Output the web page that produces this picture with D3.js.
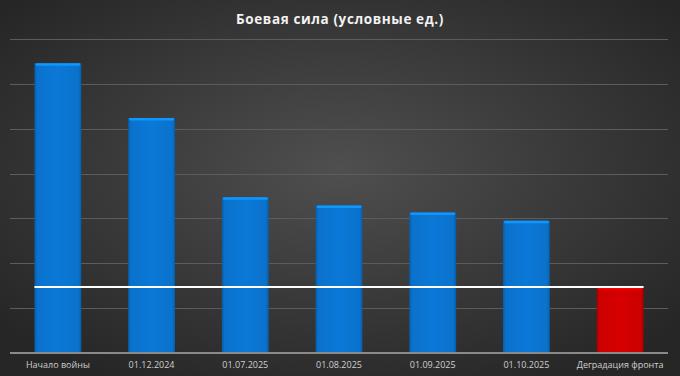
<!DOCTYPE html>
<html><head><meta charset="utf-8">
<script src="https://cdn.jsdelivr.net/npm/d3@7/dist/d3.min.js"></script>
<style>html,body{margin:0;padding:0;background:#2b2b2b;}svg{display:block;}</style>
</head><body>
<script>
const categories = ["Начало войны","01.12.2024","01.07.2025","01.08.2025","01.09.2025","01.10.2025","Деградация фронта"];
const values = [6.46, 5.24, 3.47, 3.29, 3.13, 2.95, 1.47];
const barColors = ["#0a72cc","#0a72cc","#0a72cc","#0a72cc","#0a72cc","#0a72cc","#cc0000"];
const gridTicks = [0,1,2,3,4,5,6,7];
const referenceLevel = 1.47;
const title = "Боевая сила (условные ед.)";

const W = 680, H = 376;
const svg = d3.select("body").append("svg").attr("width", W).attr("height", H);
const defs = svg.append("defs");
const rg = defs.append("radialGradient").attr("id","bg").attr("cx","50%").attr("cy","45%").attr("r","65%");
rg.append("stop").attr("offset","0%").attr("stop-color","#4f4f4f");
rg.append("stop").attr("offset","100%").attr("stop-color","#262626");
svg.append("rect").attr("width",W).attr("height",H).attr("fill","url(#bg)");

function barGrad(id, c){
  const g = defs.append("linearGradient").attr("id",id).attr("x1","0").attr("y1","0").attr("x2","1").attr("y2","0");
  const d = d3.color(c).darker(0.6), l = d3.color(c).brighter(0.15);
  g.append("stop").attr("offset","0%").attr("stop-color",d);
  g.append("stop").attr("offset","6%").attr("stop-color",c);
  g.append("stop").attr("offset","50%").attr("stop-color",l);
  g.append("stop").attr("offset","94%").attr("stop-color",c);
  g.append("stop").attr("offset","100%").attr("stop-color",d);
}
barGrad("gb",barColors[0]); barGrad("gr",barColors[6]);

const x = d3.scaleBand().domain(categories).range([11, 667]).paddingInner(0.5).paddingOuter(0.25);
const y = d3.scaleLinear().domain([0,7]).range([353, 39]);

svg.append("text").attr("x",340).attr("y",24).attr("text-anchor","middle")
  .attr("fill","#f2f2f2").attr("font-family","Open Sans, Noto Sans, sans-serif")
  .attr("font-weight","bold").attr("font-size",13.5).attr("letter-spacing",0.6).text(title);

svg.append("g").selectAll("line").data(gridTicks.filter(d=>d>0)).join("line")
  .attr("x1",10).attr("x2",668).attr("y1",d=>Math.round(y(d))+0.5).attr("y2",d=>Math.round(y(d))+0.5)
  .attr("stroke","#5c5c5c").attr("stroke-width",1);

const g = svg.append("g");
g.selectAll("rect.bar").data(values).join("rect").attr("class","bar")
  .attr("x",(d,i)=>x(categories[i])).attr("width",x.bandwidth())
  .attr("y",d=>y(d)).attr("height",d=>y(0)-y(d))
  .attr("fill",(d,i)=>i===values.length-1?"url(#gr)":"url(#gb)");
g.selectAll("rect.top").data(values).join("rect").attr("class","top")
  .attr("x",(d,i)=>x(categories[i])+1).attr("width",x.bandwidth()-2)
  .attr("y",d=>y(d)).attr("height",2.5)
  .attr("fill",(d,i)=>d3.color(barColors[i]).brighter(0.8)).attr("rx",1);

svg.append("line").attr("x1",10).attr("x2",668).attr("y1",y(0)).attr("y2",y(0))
  .attr("stroke","#8a8a8a").attr("stroke-width",2);

const xAxis = d3.axisBottom(x).tickSize(0).tickPadding(9);
const ax = svg.append("g").attr("transform",`translate(0,${y(0)})`).call(xAxis);
ax.select(".domain").remove();
ax.selectAll("text").attr("fill","#cfcfcf").attr("font-size",9)
  .attr("font-family","Open Sans, Noto Sans, sans-serif");

const last = categories[categories.length-1];
svg.append("line").attr("x1",x(categories[0])).attr("x2",x(last)+x.bandwidth())
  .attr("y1",y(referenceLevel)).attr("y2",y(referenceLevel))
  .attr("stroke","#ffffff").attr("stroke-width",2);
</script>
</body></html>
